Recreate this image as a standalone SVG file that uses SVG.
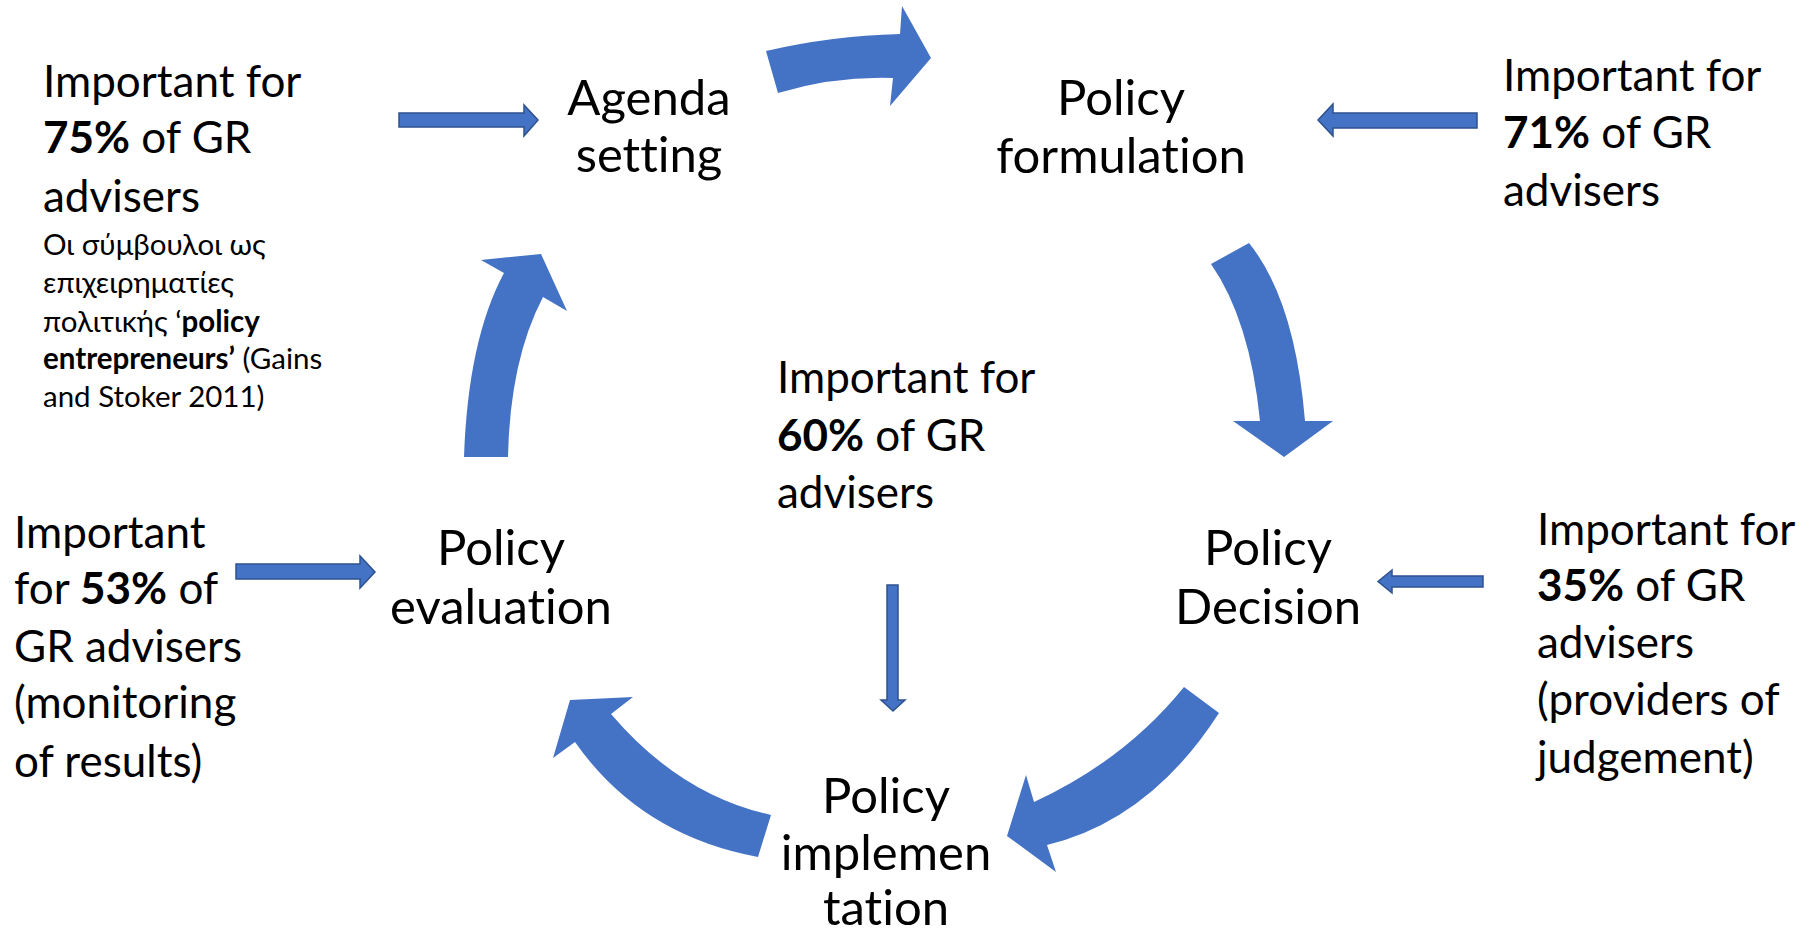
<svg xmlns="http://www.w3.org/2000/svg" width="1820" height="937" viewBox="0 0 1820 937">
<style>
text{font-family:Lato,"Noto Sans","Open Sans",sans-serif;fill:#000;font-variant-ligatures:none}
.big{font-size:44px}
.node{font-size:49px;text-anchor:middle}
.small{font-size:29.5px}
.b{font-weight:bold}
.arc{fill:#4472C4}
.str{fill:#4472C4;stroke:#2F528F;stroke-width:1.5}
</style>
<rect width="1820" height="937" fill="#fff"/>
<g id="connectors">
<path class="arc" d="M766,51 Q830,36 900,34 L902,6 L931,58 L890,106 L893,78 Q835,76 778,93 Z"/>
<path class="arc" d="M1211,264 L1249,243 Q1295,300 1305,421 L1333,421 L1284,457 L1233,421 L1260,421 Q1250,320 1211,264 Z"/>
<path class="arc" d="M1184,687 L1219,713 Q1150,820 1047,845 L1056,872 L1007,836 L1026,775 L1034,802 Q1125,760 1184,687 Z"/>
<path class="arc" d="M771,815 L758,857 Q640,835 575,742 L553,758 L570,700 L633,697 L611,714 Q680,795 771,815 Z"/>
<path class="arc" d="M464,457 L508,457 Q510,360 543,297 L567,311 L541,254 L481,260 L504,273 Q468,340 464,457 Z"/>
<path class="str" d="M399,113 L524,113 L524,105 L538,120 L524,136 L524,127 L399,127 Z"/>
<path class="str" d="M1477,113 L1333,113 L1333,104 L1318,120 L1333,136 L1333,128 L1477,128 Z"/>
<path class="str" d="M236,564 L360,564 L360,556 L375,572 L360,588 L360,579 L236,579 Z"/>
<path class="str" d="M887,585 L898,585 L898,700 L905,700 L893,711 L881,700 L887,700 Z"/>
<path class="str" d="M1483,576 L1392,576 L1392,570 L1378,581.5 L1392,593 L1392,587 L1483,587 Z"/>
</g>
<g id="node-agenda">
<text class="node" x="649" y="115">Agenda</text>
<text class="node" x="649" y="172">setting</text>
</g>
<g id="node-formulation">
<text class="node" x="1121" y="115">Policy</text>
<text class="node" x="1121" y="173">formulation</text>
</g>
<g id="node-decision">
<text class="node" x="1268" y="565">Policy</text>
<text class="node" x="1268" y="624">Decision</text>
</g>
<g id="node-implementation">
<text class="node" x="886" y="813">Policy</text>
<text class="node" x="886" y="870">implemen</text>
<text class="node" x="886" y="925">tation</text>
</g>
<g id="node-evaluation">
<text class="node" x="501" y="565">Policy</text>
<text class="node" x="501" y="624">evaluation</text>
</g>
<g id="note-75">
<text class="big" x="43" y="97">Important for</text>
<text class="big" x="43" y="153"><tspan class="b">75%</tspan> of GR</text>
<text class="big" x="43" y="212">advisers</text>
<text class="small" x="43" y="255">Οι σύμβουλοι ως</text>
<text class="small" x="43" y="293">επιχειρηματίες</text>
<text class="small" x="43" y="332">πολιτικής ‘<tspan class="b">policy</tspan></text>
<text class="small" x="43" y="369"><tspan class="b">entrepreneurs’</tspan> (Gains</text>
<text class="small" x="43" y="407">and Stoker 2011)</text>
</g>
<g id="note-71">
<text class="big" x="1503" y="91">Important for</text>
<text class="big" x="1503" y="148"><tspan class="b">71%</tspan> of GR</text>
<text class="big" x="1503" y="206">advisers</text>
</g>
<g id="note-60">
<text class="big" x="777" y="393">Important for</text>
<text class="big" x="777" y="451"><tspan class="b">60%</tspan> of GR</text>
<text class="big" x="777" y="508">advisers</text>
</g>
<g id="note-53">
<text class="big" x="14" y="548">Important</text>
<text class="big" x="14" y="604">for <tspan class="b">53%</tspan> of</text>
<text class="big" x="14" y="662">GR advisers</text>
<text class="big" x="14" y="718">(monitoring</text>
<text class="big" x="14" y="777">of results)</text>
</g>
<g id="note-35">
<text class="big" x="1537" y="545">Important for</text>
<text class="big" x="1537" y="601"><tspan class="b">35%</tspan> of GR</text>
<text class="big" x="1537" y="658">advisers</text>
<text class="big" x="1537" y="715">(providers of</text>
<text class="big" x="1537" y="773">judgement)</text>
</g>
</svg>
